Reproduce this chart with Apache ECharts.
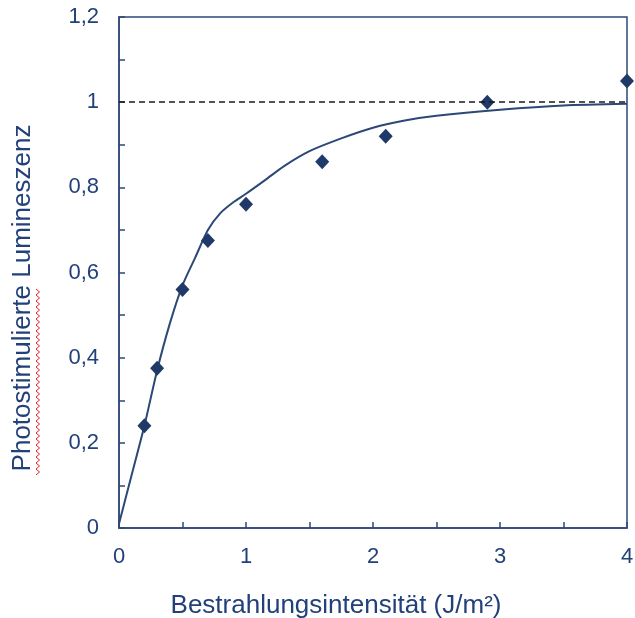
<!DOCTYPE html>
<html>
<head>
<meta charset="utf-8">
<script src="https://cdn.jsdelivr.net/npm/echarts@6/dist/echarts.min.js"></script>
<style>
    html, body { margin: 0; padding: 0; background: #fff; }
    #chart { width: 635px; height: 618px; }
</style>
</head>
<body>
<div id="chart"></div>
<script>
    // measured points
    const doseX = [0.2, 0.3, 0.5, 0.7, 1.0, 1.6, 2.1, 2.9, 4.0];
    const lumiY = [0.24, 0.375, 0.56, 0.675, 0.76, 0.86, 0.92, 1.0, 1.05];

    // fitted curve
    const fitX = [0, 0.1, 0.2, 0.3, 0.4, 0.5, 0.6, 0.7, 0.8, 0.9, 1.0, 1.15, 1.3, 1.5, 1.75, 2.0, 2.25, 2.5, 3.0, 3.5, 4.0];
    const fitY = [0.01, 0.125, 0.24, 0.37, 0.48, 0.57, 0.635, 0.70, 0.74, 0.765, 0.785, 0.817, 0.85, 0.885, 0.915, 0.94, 0.957, 0.968, 0.982, 0.992, 0.996];

    const refLevel = 1;

    const xTickLabels = ['0', '1', '2', '3', '4'];
    const yTickLabels = ['0', '0,2', '0,4', '0,6', '0,8', '1', '1,2'];

    const xTitle = 'Bestrahlungsintensität (J/m²)';
    const yTitle = 'Photostimulierte Lumineszenz';

    const navy = '#2c4876';
    const labelBlue = '#22417a';

    let chart = echarts.init(document.getElementById('chart'));

    // red spell-check squiggle under "Photostimulierte"
    let squiggle = [];
    for (let y = 475, k = 0; y >= 287; y -= 3, k++) {
        squiggle.push([k % 2 ? 39.5 : 36, y]);
    }

    let option = {
        backgroundColor: '#fff',
        animation: false,
        grid: {
            left: 119,
            right: 8,
            top: 17,
            bottom: 90,
            show: true,
            borderColor: navy,
            borderWidth: 1.5,
            outerBoundsMode: 'none'
        },
        xAxis: {
            type: 'value',
            min: 0,
            max: 4,
            interval: 1,
            axisLine: { lineStyle: { color: navy, width: 1.5 } },
            axisTick: { inside: true, length: 6, lineStyle: { color: navy, width: 1.5 } },
            minorTick: { show: true, splitNumber: 2, length: 6, lineStyle: { color: navy, width: 1.5 } },
            splitLine: { show: false },
            axisLabel: {
                margin: 18,
                color: labelBlue,
                fontSize: 22,
                fontFamily: 'Liberation Sans',
                formatter: v => xTickLabels[Math.round(v)]
            }
        },
        yAxis: {
            type: 'value',
            min: 0,
            max: 1.2,
            interval: 0.2,
            axisLine: { lineStyle: { color: navy, width: 1.5 } },
            axisTick: { inside: true, length: 6, lineStyle: { color: navy, width: 1.5 } },
            minorTick: { show: true, splitNumber: 2, length: 6, lineStyle: { color: navy, width: 1.5 } },
            splitLine: { show: false },
            axisLabel: {
                margin: 20,
                color: labelBlue,
                fontSize: 22,
                fontFamily: 'Liberation Sans',
                formatter: v => yTickLabels[Math.round(v / 0.2)]
            }
        },
        graphic: [
            {
                type: 'text',
                x: 336,
                y: 606,
                style: {
                    text: xTitle,
                    align: 'center',
                    verticalAlign: 'middle',
                    fill: labelBlue,
                    font: '26px "Liberation Sans"'
                }
            },
            {
                type: 'text',
                x: 23,
                y: 298,
                rotation: Math.PI / 2,
                style: {
                    text: yTitle,
                    align: 'center',
                    verticalAlign: 'middle',
                    fill: labelBlue,
                    font: '26px "Liberation Sans"'
                }
            },
            {
                type: 'polyline',
                shape: { points: squiggle },
                style: { stroke: '#e8202a', lineWidth: 1, fill: null }
            }
        ],
        series: [
            {
                type: 'line',
                data: fitX.map((x, i) => [x, fitY[i]]),
                showSymbol: false,
                smooth: 0.25,
                lineStyle: { color: navy, width: 2 },
                z: 3,
                markLine: {
                    silent: true,
                    symbol: 'none',
                    label: { show: false },
                    lineStyle: { color: '#1a1a1a', width: 1.5, type: [6, 4] },
                    data: [{ yAxis: refLevel }]
                }
            },
            {
                type: 'scatter',
                data: doseX.map((x, i) => [x, lumiY[i]]),
                symbol: 'diamond',
                symbolSize: [14, 15],
                clip: false,
                itemStyle: { color: '#1f3a68', opacity: 1 },
                z: 4
            }
        ]
    };
    chart.setOption(option, true);
</script>
</body>
</html>
